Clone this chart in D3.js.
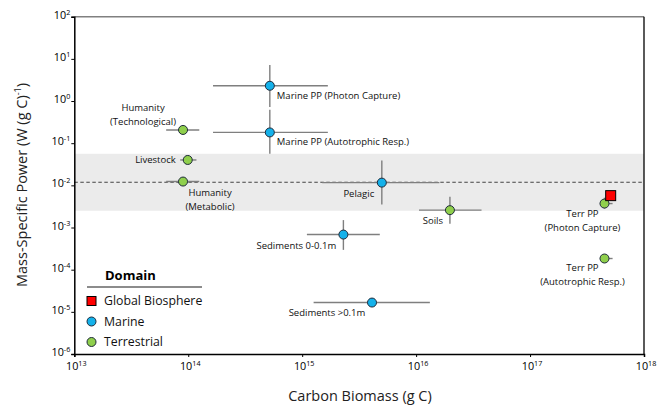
<!DOCTYPE html>
<html>
<head>
<meta charset="utf-8">
<script src="https://cdn.jsdelivr.net/npm/d3@7"></script>
<style>
  html, body { margin: 0; padding: 0; background: #fff; }
  svg { display: block; font-family: "Open Sans", "DejaVu Sans", sans-serif; }
</style>
</head>
<body>
<svg id="chart" width="659" height="408"></svg>
<script>
// Energy flux per unit carbon biomass for components of the biosphere
const names = [
  "Marine PP (Photon Capture)", "Marine PP (Autotrophic Resp.)",
  "Humanity (Technological)", "Livestock", "Humanity (Metabolic)",
  "Pelagic", "Soils", "Sediments 0-0.1m", "Sediments >0.1m",
  "Terr PP (Photon Capture)", "Terr PP (Autotrophic Resp.)", "Global Biosphere"
];
const domains = [
  "Marine", "Marine", "Terrestrial", "Terrestrial", "Terrestrial",
  "Marine", "Terrestrial", "Marine", "Marine",
  "Terrestrial", "Terrestrial", "Global Biosphere"
];
const biomass = [5.2e14, 5.2e14, 9.0e13, 9.9e13, 9.0e13, 5.0e15, 1.98e16, 2.3e15, 4.1e15, 4.5e17, 4.5e17, 5.1e17];
const power   = [2.3, 0.18, 0.206, 0.040, 0.0123, 0.0116, 0.00258, 6.8e-4, 1.66e-5, 0.0037, 1.84e-4, 0.0057];
const biomassLow  = [1.65e14, 1.65e14, 6.4e13, 8.5e13, 6.4e13, 1.5e15, 1.06e16, 1.1e15, 1.26e15, 4.1e17, 4.1e17, null];
const biomassHigh = [1.68e15, 1.68e15, 1.25e14, 1.18e14, 1.25e14, 1.6e16, 3.75e16, 4.8e15, 1.32e16, 5.3e17, 5.3e17, null];
const powerLow  = [0.72, 0.056, null, null, null, 0.0035, 0.00123, 2.95e-4, null, 0.0028, null, null];
const powerHigh = [7.2, 0.62, null, null, null, 0.039, 0.0054, 0.0015, null, 0.0051, null, null];

// reference level and its range across the biosphere
const referencePower = 0.0118;
const referenceBand = [0.0025, 0.056];

const xTickExponents = [13, 14, 15, 16, 17, 18];
const yTickExponents = [2, 1, 0, -1, -2, -3, -4, -5, -6];
const legendDomains = ["Global Biosphere", "Marine", "Terrestrial"];

const fills = { "Global Biosphere": "#ff0000", "Marine": "#14b1ea", "Terrestrial": "#8fcf4c" };

// label placement relative to each marker
const labelPlacement = {
  "Marine PP (Photon Capture)":    { dx: 7,   dy: [13],      anchor: "start",  lines: ["Marine PP (Photon Capture)"] },
  "Marine PP (Autotrophic Resp.)": { dx: 7,   dy: [13],      anchor: "start",  lines: ["Marine PP (Autotrophic Resp.)"] },
  "Humanity (Technological)":      { dx: -40, dy: [-19, -5], anchor: "middle", lines: ["Humanity", "(Technological)"] },
  "Livestock":                     { dx: -12, dy: [3],       anchor: "end",    lines: ["Livestock"] },
  "Humanity (Metabolic)":          { dx: 27,  dy: [14, 28],  anchor: "middle", lines: ["Humanity", "(Metabolic)"] },
  "Pelagic":                       { dx: -23, dy: [14],      anchor: "middle", lines: ["Pelagic"] },
  "Soils":                         { dx: -17, dy: [14],      anchor: "middle", lines: ["Soils"] },
  "Sediments 0-0.1m":              { dx: -47, dy: [14],      anchor: "middle", lines: ["Sediments 0-0.1m"] },
  "Sediments >0.1m":               { dx: -45, dy: [13],      anchor: "middle", lines: ["Sediments >0.1m"] },
  "Terr PP (Photon Capture)":      { dx: -22, dy: [13, 27],  anchor: "middle", lines: ["Terr PP", "(Photon Capture)"] },
  "Terr PP (Autotrophic Resp.)":   { dx: -22, dy: [12, 26],  anchor: "middle", lines: ["Terr PP", "(Autotrophic Resp.)"] }
};

const svg = d3.select("#chart");
const plotLeft = 74.3, plotRight = 644, plotTop = 16.7, plotBottom = 354;

const x = d3.scaleLog().domain([1e13, 1e18]).range([plotLeft, plotRight]);
const y = d3.scaleLog().domain([1e-6, 1e2]).range([plotBottom, plotTop]);

// shaded band and reference line
svg.append("rect")
  .attr("x", plotLeft).attr("width", plotRight - plotLeft)
  .attr("y", y(referenceBand[1])).attr("height", y(referenceBand[0]) - y(referenceBand[1]))
  .attr("fill", "#ebebeb");

svg.append("line")
  .attr("x1", plotLeft).attr("x2", plotRight)
  .attr("y1", y(referencePower)).attr("y2", y(referencePower))
  .attr("stroke", "#444").attr("stroke-width", 1.1).attr("stroke-dasharray", "3.5,2.5");

// frame: top grey, right black
svg.append("line").attr("x1", plotLeft).attr("x2", plotRight).attr("y1", plotTop).attr("y2", plotTop)
  .attr("stroke", "#808080").attr("stroke-width", 1.5);
svg.append("line").attr("x1", plotRight).attr("x2", plotRight).attr("y1", plotTop).attr("y2", plotBottom)
  .attr("stroke", "#000").attr("stroke-width", 1.3);

// axes
const xAxis = d3.axisBottom(x).tickValues(xTickExponents.map(e => Math.pow(10, e)))
  .tickSize(3).tickFormat("");
const yAxis = d3.axisLeft(y).tickValues(yTickExponents.map(e => Math.pow(10, e)))
  .tickSize(3).tickFormat("");

const gx = svg.append("g").attr("transform", `translate(0,${plotBottom})`).call(xAxis);
const gy = svg.append("g").attr("transform", `translate(${plotLeft},0)`).call(yAxis);
[gx, gy].forEach(g => {
  g.select(".domain").attr("stroke", "#000").attr("stroke-width", 1.5);
  g.selectAll(".tick line").attr("stroke", "#000");
});

// power-of-ten tick labels
xTickExponents.forEach(e => {
  const t = svg.append("text")
    .attr("x", x(Math.pow(10, e)) + 2).attr("y", plotBottom + 16)
    .attr("text-anchor", "middle").attr("font-size", 10.8).attr("fill", "#000");
  t.append("tspan").text("10");
  t.append("tspan").attr("font-size", 7.2).attr("dy", -4).text(e);
});
yTickExponents.forEach(e => {
  const t = svg.append("text")
    .attr("x", plotLeft - 4).attr("y", y(Math.pow(10, e)) + 2)
    .attr("text-anchor", "end").attr("font-size", 10.8).attr("fill", "#000");
  t.append("tspan").text("10");
  t.append("tspan").attr("font-size", 7.2).attr("dy", -4).text(e);
});

// axis titles
svg.append("text")
  .attr("x", 360).attr("y", 401)
  .attr("text-anchor", "middle").attr("font-size", 14.5).attr("fill", "#222")
  .text("Carbon Biomass (g C)");

const yTitle = svg.append("text")
  .attr("transform", `translate(27,185) rotate(-90)`)
  .attr("text-anchor", "middle").attr("font-size", 14.5).attr("fill", "#222");
yTitle.append("tspan").text("Mass-Specific Power (W (g C)");
yTitle.append("tspan").attr("font-size", 9).attr("dy", -6).text("-1");
yTitle.append("tspan").attr("dy", 6).text(")");

// error bars
const idx = d3.range(names.length);
const bars = svg.append("g").attr("stroke", "#7f7f7f").attr("stroke-width", 1.4);
idx.forEach(i => {
  if (biomassLow[i] != null) {
    bars.append("line")
      .attr("x1", x(biomassLow[i])).attr("x2", x(biomassHigh[i]))
      .attr("y1", y(power[i])).attr("y2", y(power[i]));
  }
  if (powerLow[i] != null) {
    bars.append("line")
      .attr("x1", x(biomass[i])).attr("x2", x(biomass[i]))
      .attr("y1", y(powerLow[i])).attr("y2", y(powerHigh[i]));
  }
});

// markers
const marks = svg.append("g");
idx.forEach(i => {
  const d = domains[i];
  if (d === "Global Biosphere") {
    marks.append("rect")
      .attr("x", x(biomass[i]) - 5).attr("y", y(power[i]) - 5)
      .attr("width", 10).attr("height", 10)
      .attr("fill", fills[d]).attr("stroke", "#000").attr("stroke-width", 1);
  } else {
    marks.append("circle")
      .attr("cx", x(biomass[i])).attr("cy", y(power[i])).attr("r", 4.5)
      .attr("fill", fills[d]).attr("stroke", "#1e2a3a").attr("stroke-width", 1);
  }
});

// point labels
const labels = svg.append("g").attr("font-size", 9.5).attr("fill", "#111");
idx.forEach(i => {
  const p = labelPlacement[names[i]];
  if (!p) return;
  p.lines.forEach((line, k) => {
    labels.append("text")
      .attr("x", x(biomass[i]) + p.dx).attr("y", y(power[i]) + p.dy[k])
      .attr("text-anchor", p.anchor).text(line);
  });
});

// legend
const lg = svg.append("g");
lg.append("text").attr("x", 105).attr("y", 280)
  .attr("font-size", 13).attr("font-weight", "bold").attr("fill", "#000").text("Domain");
lg.append("line").attr("x1", 87).attr("x2", 202).attr("y1", 287).attr("y2", 287)
  .attr("stroke", "#666").attr("stroke-width", 1.5);
legendDomains.forEach((d, k) => {
  const cy = 301 + k * 20.5;
  if (d === "Global Biosphere") {
    lg.append("rect").attr("x", 87).attr("y", cy - 4.5).attr("width", 9).attr("height", 9)
      .attr("fill", fills[d]).attr("stroke", "#000").attr("stroke-width", 1);
  } else {
    lg.append("circle").attr("cx", 91.5).attr("cy", cy).attr("r", 4.5)
      .attr("fill", fills[d]).attr("stroke", "#1e2a3a").attr("stroke-width", 1);
  }
  lg.append("text").attr("x", 104).attr("y", cy + 4.3)
    .attr("font-size", 12.3).attr("fill", "#111").text(d);
});
</script>
</body>
</html>
